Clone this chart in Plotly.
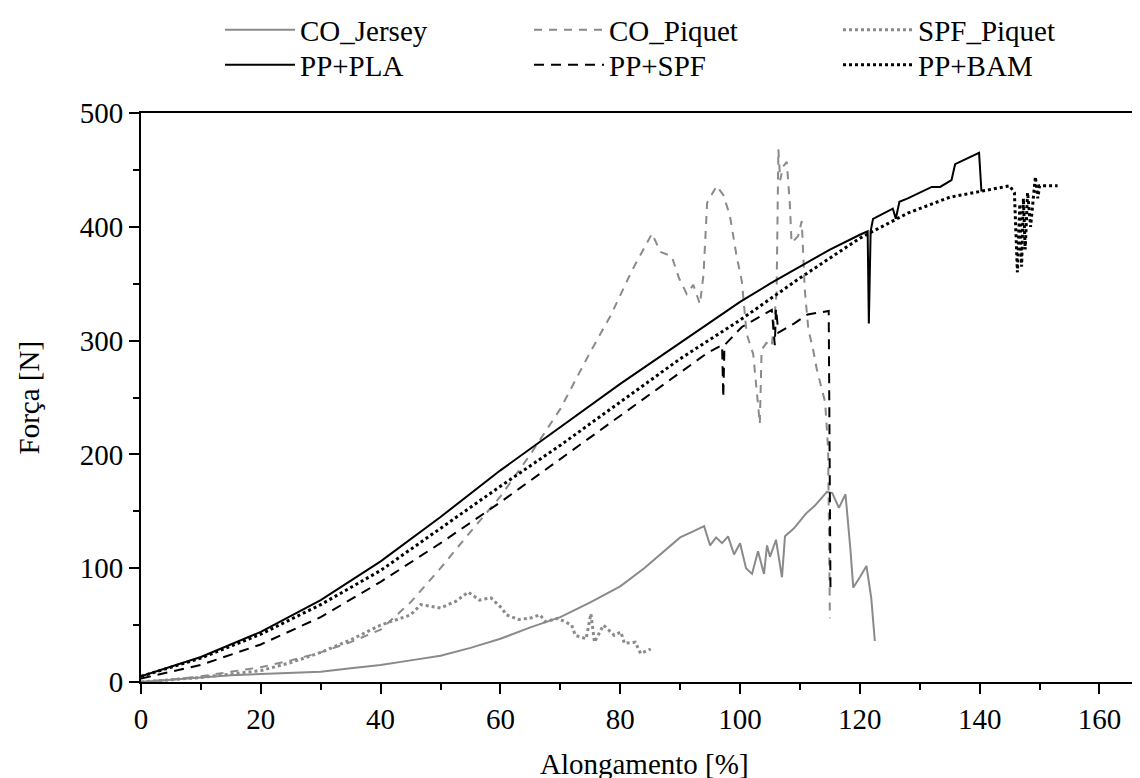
import plotly.graph_objects as go

# ---------------- data ----------------
co_jersey_x = [0, 5, 10, 15, 20, 25, 30, 35, 40, 45, 50, 55, 60, 65, 70, 75, 80, 84, 88, 90, 92, 94,
               95, 96, 97, 98, 99, 100, 101, 102, 103, 104, 104.5, 105, 106, 107, 107.5, 109, 111,
               112.5, 114.5, 115.4, 116.5, 117.6, 118.4, 118.9, 120, 121.1, 121.9, 122.5]
co_jersey_y = [0, 2, 4, 6, 7, 8, 9, 12, 15, 19, 23, 30, 38, 48, 57, 70, 84, 100, 118, 127, 132, 137,
               120, 127, 122, 128, 112, 122, 100, 95, 115, 95, 120, 110, 125, 92, 128, 135, 148,
               155, 167, 166, 153, 165, 118, 83, 92, 102, 74, 36]

co_piquet_x = [0, 5, 10, 15, 20, 25, 30, 35, 40, 45, 50, 55, 60, 65, 70, 75, 78.4, 82, 85.3, 86.7,
               88.6, 89.8, 91.1, 92.2, 93.3, 93.9, 94.5, 96.1, 97.2, 98.3, 99.4, 100.3, 101.1, 102.2,
               103.3, 103.6, 104.4, 105.3, 106.1, 106.4, 106.7, 107.2, 107.8, 108.3, 108.6, 109.2,
               109.7, 110.3, 110.8, 111.4, 112.2, 112.8, 113.6, 114.2, 114.7, 115.0]
co_piquet_y = [0, 2, 5, 9, 13, 19, 26, 35, 46, 70, 100, 132, 163, 200, 240, 290, 322, 362, 394, 378,
               374, 355, 341, 349, 332, 358, 421, 436, 428, 410, 375, 352, 306, 288,
               227, 292, 298, 295, 342, 468, 441, 453, 457, 421, 386, 389,
               392, 405, 345, 310, 292, 275, 259, 246, 205, 56]

spf_piquet_x = [0, 5, 10, 15, 20, 25, 30, 35, 40, 45, 46.7, 50, 52.6, 54.6, 56.5, 58.4, 60.2, 61,
                63, 64.9, 66.6, 67.5, 69.6, 71.9, 72.5, 74.3, 75.1, 75.7, 77.2, 79, 80.1, 80.7,
                82.5, 83.4, 85.1]
spf_piquet_y = [0, 2, 4, 7, 10, 17, 26, 37, 50, 59, 68, 65, 71, 79, 72, 74, 65, 59,
                55, 56, 59, 53, 56, 50, 41, 38, 60, 35, 50, 41, 44, 34,
                35, 25, 29]

pp_pla_x = [0, 10, 20, 30, 40, 50, 60, 70, 80, 90, 100, 105, 110, 115, 120, 121.3, 121.5, 121.8,
            122.2, 125.5, 126, 126.6, 128, 132, 133.4, 135.3, 135.9, 139.9, 140.3]
pp_pla_y = [5, 22, 44, 72, 106, 145, 186, 224, 262, 298, 334, 350, 365, 380, 393, 396, 315, 396,
            407, 416, 407, 422, 425, 435, 435, 441, 455, 465, 431]

pp_spf_x = [0, 10, 20, 30, 40, 50, 60, 70, 80, 90, 94.5, 97, 97.2, 97.4, 100.3, 105.3, 105.8,
            106, 106.4, 109, 111.3, 114.8, 115.1]
pp_spf_y = [3, 15, 33, 57, 88, 122, 158, 196, 234, 272, 289, 296, 250, 296, 312, 327, 296,
            328, 307, 315, 323, 326, 77]

pp_bam_x = [0, 10, 20, 30, 40, 50, 60, 70, 80, 90, 100, 110, 120, 128, 135, 140, 145, 145.8,
            146.3, 146.7, 147, 147.3, 147.6, 148, 148.5, 149.3, 149.7, 150, 153]
pp_bam_y = [5, 21, 42, 68, 98, 135, 172, 208, 246, 284, 318, 355, 390, 412, 426, 431, 436, 430,
            360, 420, 365, 425, 380, 430, 400, 444, 425, 436, 436]

x_ticks = [0, 20, 40, 60, 80, 100, 120, 140, 160]
y_ticks = [0, 100, 200, 300, 400, 500]
x_title = "Alongamento [%]"
y_title = "Força [N]"

# ---------------- figure ----------------
GREY = "#8a8a8a"
BLACK = "#000000"
FONT = "Liberation Serif"
W, H = 1140, 778
L, R, T, B = 133, 0, 105, 104
PW, PH = W - L - R, H - T - B

fig = go.Figure()
series = [
    ("CO_Jersey", co_jersey_x, co_jersey_y, dict(color=GREY, width=2), "legend", 212, 22),
    ("CO_Piquet", co_piquet_x, co_piquet_y, dict(color=GREY, width=2, dash="8px,7px"), "legend2", 521, 22),
    ("SPF_Piquet", spf_piquet_x, spf_piquet_y, dict(color=GREY, width=3, dash="3px,3px"), "legend3", 830, 22),
    ("PP+PLA", pp_pla_x, pp_pla_y, dict(color=BLACK, width=2), "legend4", 212, 57),
    ("PP+SPF", pp_spf_x, pp_spf_y, dict(color=BLACK, width=2, dash="10px,7px"), "legend5", 521, 57),
    ("PP+BAM", pp_bam_x, pp_bam_y, dict(color=BLACK, width=3, dash="3px,3px"), "legend6", 830, 57),
]
legends = {}
for name, xs, ys, line, leg, lx, ly in series:
    fig.add_trace(go.Scatter(x=xs, y=ys, mode="lines", name=name, line=line, legend=leg,
                             showlegend=True))
    legends[leg] = dict(orientation="v", xref="container", yref="container",
                        x=lx / W, y=1 - ly / H, xanchor="left", yanchor="middle",
                        bgcolor="rgba(0,0,0,0)", itemwidth=70,
                        font=dict(family=FONT, size=29, color="black"))

axis_common = dict(ticks="outside", ticklen=10, tickwidth=2, tickcolor="black",
                   showline=True, linewidth=2, linecolor="black", showgrid=False,
                   zeroline=False, automargin=False,
                   tickfont=dict(family=FONT, size=29, color="black"))

fig.update_layout(
    width=W, height=H, showlegend=True,
    margin=dict(l=L, r=R, t=T, b=B, autoexpand=False),
    plot_bgcolor="white", paper_bgcolor="white",
    font=dict(family=FONT, size=29, color="black"),
    **legends,
    xaxis=dict(range=[0, 168.1], tickvals=x_ticks, mirror=True,
               minor=dict(dtick=10, tick0=0, ticks="outside", ticklen=6, tickwidth=2,
                          tickcolor="black", showgrid=False),
               **axis_common),
    yaxis=dict(range=[0, 500], tickvals=y_ticks, mirror=False,
               minor=dict(dtick=50, tick0=0, ticks="outside", ticklen=6, tickwidth=2,
                          tickcolor="black", showgrid=False),
               **axis_common),
    annotations=[
        dict(text=x_title, xref="paper", yref="paper", x=0.5, y=-(756 - (T + PH)) / PH,
             xanchor="center", yanchor="middle", showarrow=False,
             font=dict(family=FONT, size=29, color="black")),
        dict(text=y_title, xref="paper", yref="paper", x=-(L - 20) / PW, y=0.5,
             xanchor="center", yanchor="middle", textangle=-90, showarrow=False,
             font=dict(family=FONT, size=29, color="black")),
    ],
)

fig.write_html("out.html")
